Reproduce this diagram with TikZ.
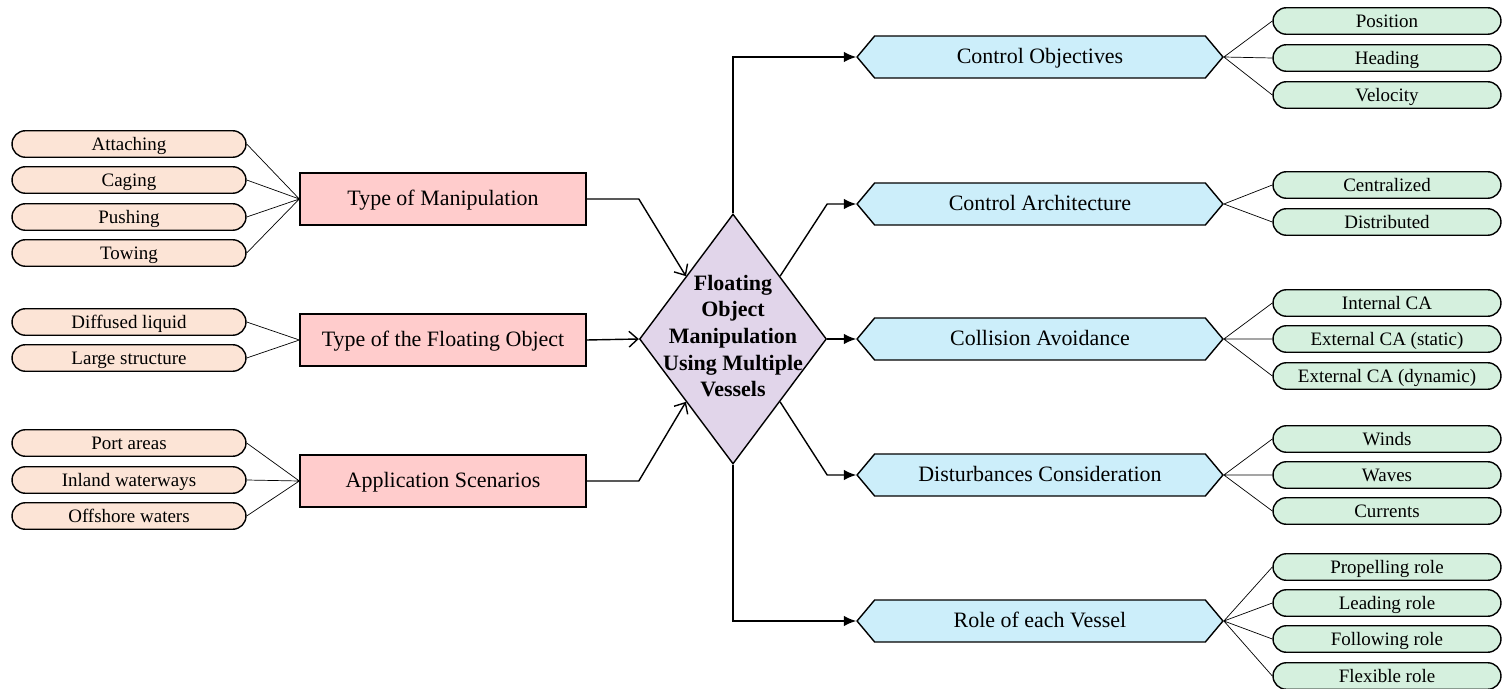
\documentclass[tikz,border=0pt]{standalone}
\usepackage{fontspec}
\setmainfont{Liberation Serif}
\usepackage{tikz}
\usetikzlibrary{shapes.misc}
\usetikzlibrary{arrows,arrows.meta}
\usetikzlibrary{shapes.geometric,shapes.symbols}
\definecolor{peach}{RGB}{252,228,214}
\definecolor{rosa}{RGB}{255,204,204}
\definecolor{lila}{RGB}{225,213,234}
\definecolor{hellblau}{RGB}{204,238,250}
\definecolor{mint}{RGB}{213,240,222}
\tikzset{
	pill/.style={rounded rectangle, draw, thick, fill=peach, minimum width=4.68cm, minimum height=0.53cm, inner sep=0pt, text height=0.72em, text depth=0pt, font=\fontsize{10.8}{13}\selectfont},
	gpill/.style={pill, fill=mint, minimum width=4.56cm},
	rbox/.style={rectangle, draw, thick, fill=rosa, minimum width=5.72cm, minimum height=1.04cm, inner sep=0pt, text height=0.72em, text depth=0pt, font=\fontsize{12.5}{15}\selectfont},
	hexbox/.style={signal, signal to=west and east, signal pointer angle=100, draw, thick, fill=hellblau, minimum width=7.32cm, minimum height=0.84cm, inner sep=0pt, text height=0.72em, text depth=0pt, font=\fontsize{12.5}{15}\selectfont},
	ast/.style={thin},
	zu/.style={thick, -{Straight Barb[length=5pt,width=9pt]}},
	ab/.style={thick, -{Latex[length=7pt,width=6pt]}}
}

\begin{document}
\begin{tikzpicture}[x=0.02cm,y=-0.02cm]
	\useasboundingbox (0,0) rectangle (1502,689);
	\node[name=hub, diamond, draw, thick, fill=lila, minimum width=3.74cm, minimum height=5cm, inner sep=0pt] at (733,339) {};
	\node[name=hubtext, align=center, font=\bfseries\fontsize{12.5}{15.2}\selectfont] at (733,336) {Floating\\Object\\Manipulation\\Using Multiple\\Vessels};
	\node[name=M, rbox] at (443,199) {Type of Manipulation};
	\node[name=F, rbox] at (443,340) {Type of the Floating Object};
	\node[name=A, rbox] at (443,481) {Application Scenarios};
	\node[name=M1, pill] at (129,144) {Attaching};
	\node[name=M2, pill] at (129,180) {Caging};
	\node[name=M3, pill] at (129,217) {Pushing};
	\node[name=M4, pill] at (129,253) {Towing};
	\draw[ast] (M1.east) -- (M.west) (M2.east) -- (M.west) (M3.east) -- (M.west) (M4.east) -- (M.west);
	\node[name=F1, pill] at (129,322) {Diffused liquid};
	\node[name=F2, pill] at (129,358) {Large structure};
	\draw[ast] (F1.east) -- (F.west) (F2.east) -- (F.west);
	\node[name=A1, pill] at (129,443) {Port areas};
	\node[name=A2, pill] at (129,480) {Inland waterways};
	\node[name=A3, pill] at (129,516) {Offshore waters};
	\draw[ast] (A1.east) -- (A.west) (A2.east) -- (A.west) (A3.east) -- (A.west);
	\draw[zu] (M.east) -- (M.east -| hub.west) -- (hub.north west);
	\draw[zu] (F.east) -- (hub.west);
	\draw[zu] (A.east) -- (A.east -| hub.west) -- (hub.south west);
	\node[name=O, hexbox] at (1040,57) {Control Objectives};
	\node[name=R, hexbox] at (1040,204) {Control Architecture};
	\node[name=C, hexbox] at (1040,339) {Collision Avoidance};
	\node[name=D, hexbox] at (1040,475) {Disturbances Consideration};
	\node[name=V, hexbox] at (1040,621) {Role of each Vessel};
	\draw[ab] (hub.north) -- (hub.north |- O.west) -- (O.west);
	\draw[ab] (hub.north east) -- (hub.east |- R.west) -- (R.west);
	\draw[ab] (hub.east) -- (C.west);
	\draw[ab] (hub.south east) -- (hub.east |- D.west) -- (D.west);
	\draw[ab] (hub.south) -- (hub.south |- V.west) -- (V.west);
	\node[name=O1, gpill] at (1387,21) {Position};
	\node[name=O2, gpill] at (1387,58) {Heading};
	\node[name=O3, gpill] at (1387,95) {Velocity};
	\draw[ast] (O.east) -- (O1.west) (O.east) -- (O2.west) (O.east) -- (O3.west);
	\node[name=R1, gpill] at (1387,185) {Centralized};
	\node[name=R2, gpill] at (1387,222) {Distributed};
	\draw[ast] (R.east) -- (R1.west) (R.east) -- (R2.west);
	\node[name=C1, gpill] at (1387,303) {Internal CA};
	\node[name=C2, gpill] at (1387,339) {External CA (static)};
	\node[name=C3, gpill] at (1387,376) {External CA (dynamic)};
	\draw[ast] (C.east) -- (C1.west) (C.east) -- (C2.west) (C.east) -- (C3.west);
	\node[name=D1, gpill] at (1387,439) {Winds};
	\node[name=D2, gpill] at (1387,475) {Waves};
	\node[name=D3, gpill] at (1387,511) {Currents};
	\draw[ast] (D.east) -- (D1.west) (D.east) -- (D2.west) (D.east) -- (D3.west);
	\node[name=V1, gpill] at (1387,567) {Propelling role};
	\node[name=V2, gpill] at (1387,603) {Leading role};
	\node[name=V3, gpill] at (1387,639) {Following role};
	\node[name=V4, gpill] at (1387,676) {Flexible role};
	\draw[ast] (V.east) -- (V1.west) (V.east) -- (V2.west) (V.east) -- (V3.west) (V.east) -- (V4.west);
\end{tikzpicture}
\end{document}
